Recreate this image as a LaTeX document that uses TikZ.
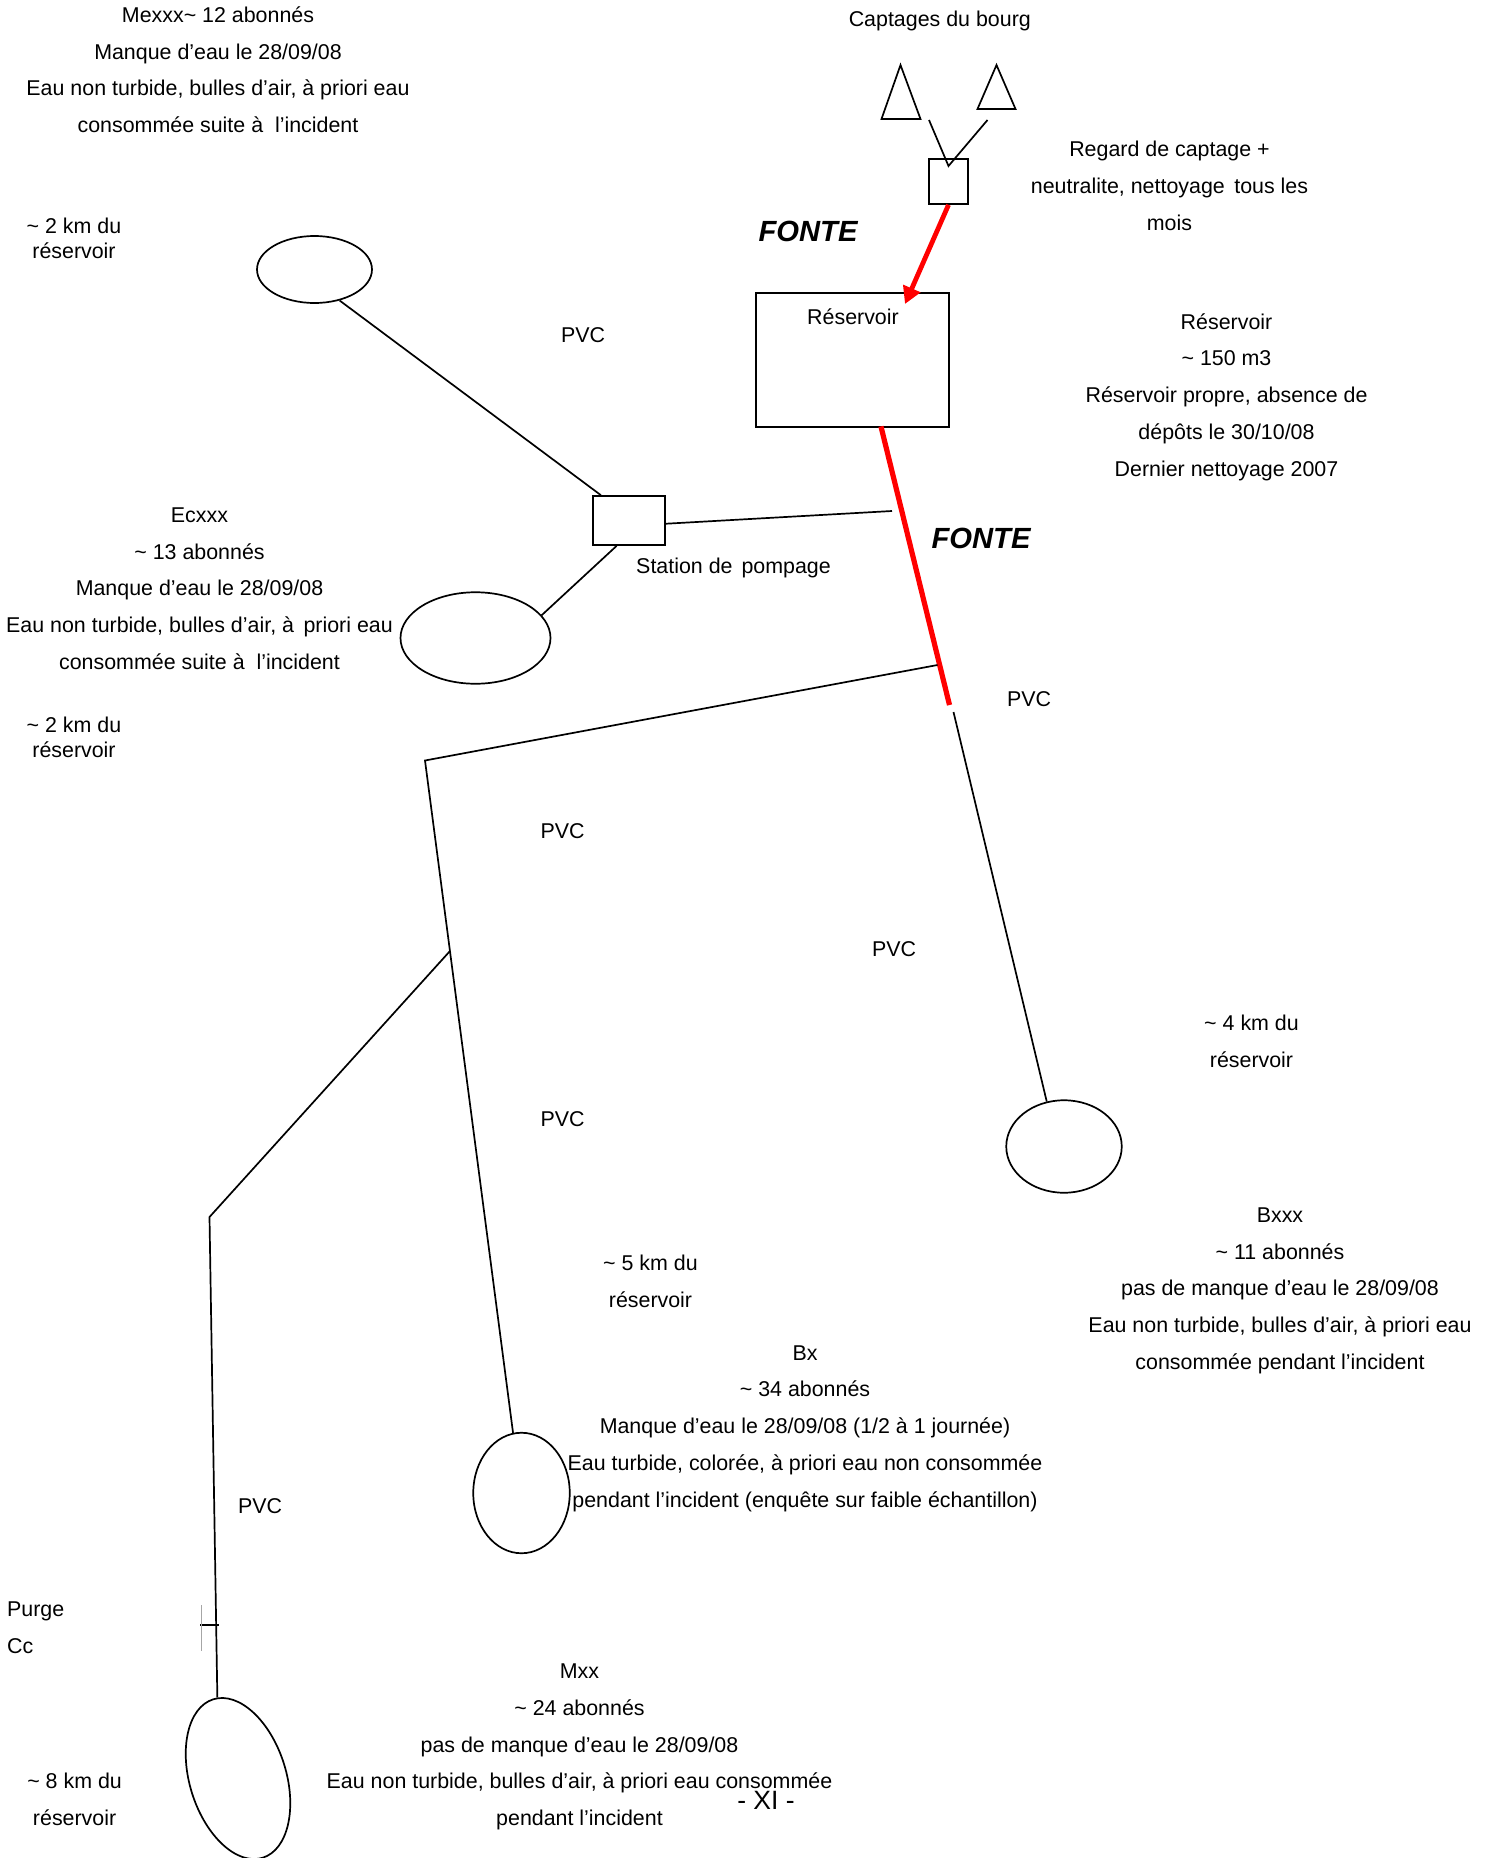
\documentclass[tikz,border=0pt]{standalone}
\usepackage{fontspec}
\setmainfont{Liberation Sans}
\usetikzlibrary{arrows.meta,shapes.geometric}
\newcommand{\tld}{\char`~{} }
\tikzset{
  x=1pt,y=-1pt,
  ln/.style={line width=1.7pt,black},
  redln/.style={line width=5.2pt,red},
  txt/.style={align=center,inner sep=0pt,font=\fontsize{21.4}{36.7}\selectfont},
  tight/.style={align=center,inner sep=0pt,font=\fontsize{21.4}{25}\selectfont},
  fonte/.style={inner sep=0pt,font=\fontsize{29.2}{34}\selectfont\bfseries\itshape},
  ell/.style={ellipse,draw,line width=1.7pt,inner sep=0pt},
  box/.style={rectangle,draw,line width=1.7pt,inner sep=0pt},
}
\begin{document}
\begin{tikzpicture}
\useasboundingbox (0,0) rectangle (1489,1858);
% shapes
\node[box,minimum width=38.5pt,minimum height=45pt] (regard) at (948.5,181.5) {};
\node[box,minimum width=192.5pt,minimum height=134pt] (res) at (852.5,360) {};
\node[box,minimum width=72pt,minimum height=49pt] (station) at (629,520.5) {};
\node[ell,minimum width=115pt,minimum height=67pt] (mex) at (314.5,269.5) {};
\node[ell,minimum width=150pt,minimum height=91.5pt] (ecx) at (475.5,638) {};
\node[ell,minimum width=115.5pt,minimum height=92.5pt] (bxxx) at (1064,1146.5) {};
\node[ell,minimum width=96.5pt,minimum height=120.5pt] (bx) at (521.5,1493) {};
\node[ell,minimum width=96.5pt,minimum height=166pt,rotate=17.3] (mxx) at (238,1778.5) {};
% triangles
\coordinate (ta) at (900.5,65); \coordinate (tb) at (881.5,119); \coordinate (tc) at (920.5,119);
\coordinate (td) at (996.5,65); \coordinate (te) at (977.5,109); \coordinate (tf) at (1015.5,109);
\draw[ln,line join=miter] (ta)--(tb)--(tc)--cycle;
\draw[ln,line join=miter] (td)--(te)--(tf)--cycle;
% named free ends
\coordinate (v1) at (929,120); \coordinate (v2) at (948.5,166); \coordinate (v3) at (987.5,120);
\coordinate (rtip) at (905,304);
\coordinate (redend) at (949.5,705);
\coordinate (j1) at (892,511);
\coordinate (j2) at (937.5,665);
\coordinate (k1) at (425,760.5);
\coordinate (k2) at (450,951);
\coordinate (m1) at (209.5,1217);
\coordinate (p1) at (953.5,712);
\coordinate (pu1) at (200,1625); \coordinate (pu2) at (219,1625);
\coordinate (gr1) at (201,1605); \coordinate (gr2) at (201,1651);
% connectors
\draw[ln] (v1)--(v2)--(v3);
\draw[red,line width=4.8pt,-{Triangle[length=17pt,width=18pt]}] (regard.south) -- (rtip);
\draw[redln,shorten <=-1.5pt] (res.-67) -- (redend);
\draw[ln] (mex.-51) -- (station.138.7);
\draw[ln] (station.-5.5) -- (j1);
\draw[ln] (station.244) -- (ecx.19.3);
\draw[ln,line join=miter] (j2) -- (k1) -- (bx.98);
\draw[ln,line join=miter] (k2) -- (m1) -- (mxx.87);
\draw[ln] (p1) -- (bxxx.111);
\draw[ln] (pu1) -- (pu2);
\draw[gray!70,line width=0.7pt] (gr1) -- (gr2);
% text
\node[txt] (t1) at (218,69.8) {Mexxx\tld 12 abonnés\\Manque d’eau le 28/09/08\\Eau non turbide, bulles d’air, à priori eau\\consommée suite à \ l’incident};
\node[tight] (t2) at (74,238.5) {\tld 2 km du\\réservoir};
\node[txt] (t3) at (939.8,21) {Captages du bourg};
\node[txt] (t4) at (1169.5,186) {Regard de captage +\\neutralite, nettoyage \,tous les\\mois};
\node[fonte] (t5) at (808,231) {FONTE};
\node[txt] (t6) at (853,317) {Réservoir};
\node[txt] (t7) at (1226.5,397) {Réservoir\\\tld 150 m3\\Réservoir propre, absence de\\dépôts le 30/10/08\\Dernier nettoyage 2007};
\node[txt] (t8) at (583,335) {PVC};
\node[txt] (t9) at (199.5,588.6) {Ecxxx\\\tld 13 abonnés\\Manque d’eau le 28/09/08\\Eau non turbide, bulles d’air, à \,priori eau\\consommée suite à \ l’incident};
\node[txt] (t10) at (733.5,568) {Station de\hspace{3pt} pompage};
\node[fonte] (t11) at (981,538) {FONTE};
\node[tight] (t12) at (74,737) {\tld 2 km du\\réservoir};
\node[txt] (t13) at (1029,699) {PVC};
\node[txt] (t14) at (562.5,831) {PVC};
\node[txt] (t15) at (894,949) {PVC};
\node[txt] (t16) at (1251.5,1041.2) {\tld 4 km du\\réservoir};
\node[txt] (t17) at (562.5,1119) {PVC};
\node[txt] (t18) at (1280,1290.7) {Bxxx\\\tld 11 abonnés\\pas de manque d’eau le 28/09/08\\Eau non turbide, bulles d’air, à priori eau\\consommée pendant l’incident};
\node[txt] (t19) at (650.5,1281.5) {\tld 5 km du\\réservoir};
\node[txt] (t20) at (805,1428.5) {Bx\\\tld 34 abonnés\\Manque d’eau le 28/09/08 (1/2 à 1 journée)\\Eau turbide, colorée, à priori eau non consommée\\pendant l’incident (enquête sur faible échantillon)};
\node[txt] (t21) at (260,1506) {PVC};
\node[txt,anchor=west,align=left] (t22) at (7,1628) {Purge\\Cc};
\node[txt] (t23) at (579.5,1747) {Mxx\\\tld 24 abonnés\\pas de manque d’eau le 28/09/08\\Eau non turbide, bulles d’air, à priori eau consommée\\pendant l’incident};
\node[txt] (t24) at (74.6,1799.5) {\tld 8 km du\\réservoir};
\node[inner sep=0pt,font=\fontsize{26.5}{30}\selectfont] (t25) at (766,1800) {- XI -};
\end{tikzpicture}
\end{document}
